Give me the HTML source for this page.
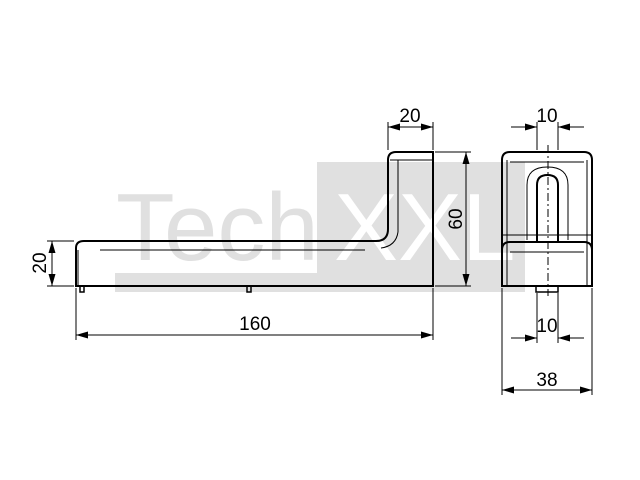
<!DOCTYPE html>
<html><head><meta charset="utf-8"><style>
html,body{margin:0;padding:0;background:#fff}
svg{display:block}
text{font-family:"Liberation Sans",sans-serif;fill:#000}
</style></head><body>
<svg width="640" height="480" viewBox="0 0 640 480" xmlns="http://www.w3.org/2000/svg">
<defs>
<marker id="a" viewBox="0 0 12 7" refX="12" refY="3.5" markerWidth="12" markerHeight="7" orient="auto-start-reverse" markerUnits="userSpaceOnUse">
<path d="M0,0 L12,3.5 L0,7 z" fill="#000"/></marker>
</defs>
<!-- watermark -->
<rect x="317" y="162" width="208" height="130" fill="#e0e0e0"/>
<rect x="115" y="273" width="202" height="19" fill="#e0e0e0"/>
<text x="116" y="260" font-size="96" style="fill:#e0e0e0">Tech</text>
<text x="334" y="260" font-size="96" style="fill:#fff">XXL</text>

<g fill="none" stroke="#000" stroke-width="2">
<!-- side view -->
<path d="M76,286 L76,248 Q76,241 84,241 L376,241 Q388,241 388,229 L388,160 Q388,152 396,152 L433,152 L433,286 Z"/>
<path d="M80,286 v6 h4 v-6 M247,286 v6 h4 v-6" stroke-width="1.5"/>
<!-- front view -->
<path d="M502,286 L502,160 Q502,152 510,152 L584,152 Q592,152 592,160 L592,286 Z"/>
<path d="M502,250 Q502,242 510,242 L584,242 Q592,242 592,250"/>
<path d="M537,241 L537,185 Q537,175 547.5,175 Q558,175 558,185 L558,241"/>
<path d="M536,286 v6 h22 v-6" stroke-width="1.5"/>
</g>
<g fill="none" stroke="#000" stroke-width="1">
<line x1="100" y1="250" x2="365" y2="250"/>
<line x1="398" y1="160" x2="398" y2="232"/>
<path d="M398,232 Q396,246 381,248"/>
<line x1="78" y1="250" x2="78" y2="286"/>
<line x1="390" y1="160" x2="433" y2="160"/>
<!-- front hidden -->
<line x1="507" y1="160" x2="507" y2="286"/>
<line x1="587" y1="160" x2="587" y2="286"/>
<line x1="510" y1="162" x2="584" y2="162"/>
<path d="M527,240 L527,185 Q527,167 547.5,167 Q568,167 568,185 L568,240"/>
<line x1="502" y1="235" x2="592" y2="235"/>
<line x1="510" y1="252" x2="584" y2="252"/>
<line x1="548" y1="145" x2="548" y2="296" stroke-dasharray="8,3,2,3"/>
<!-- dims side -->
<line x1="388" y1="150" x2="388" y2="122"/>
<line x1="433" y1="150" x2="433" y2="122"/>
<line x1="388" y1="127" x2="433" y2="127" marker-start="url(#a)" marker-end="url(#a)"/>
<line x1="435" y1="152" x2="471" y2="152"/>
<line x1="435" y1="286" x2="471" y2="286"/>
<line x1="466" y1="152" x2="466" y2="286" marker-start="url(#a)" marker-end="url(#a)"/>
<line x1="76" y1="288" x2="76" y2="340"/>
<line x1="433" y1="288" x2="433" y2="340"/>
<line x1="76" y1="335" x2="433" y2="335" marker-start="url(#a)" marker-end="url(#a)"/>
<line x1="47" y1="241" x2="74" y2="241"/>
<line x1="47" y1="286" x2="74" y2="286"/>
<line x1="52" y1="241" x2="52" y2="286" marker-start="url(#a)" marker-end="url(#a)"/>
<!-- dims front -->
<line x1="537" y1="122" x2="537" y2="150"/>
<line x1="558" y1="122" x2="558" y2="150"/>
<line x1="511" y1="127" x2="537" y2="127" marker-end="url(#a)"/>
<line x1="584" y1="127" x2="558" y2="127" marker-end="url(#a)"/>
<line x1="537" y1="293" x2="537" y2="343"/>
<line x1="558" y1="293" x2="558" y2="343"/>
<line x1="511" y1="338" x2="537" y2="338" marker-end="url(#a)"/>
<line x1="584" y1="338" x2="558" y2="338" marker-end="url(#a)"/>
<line x1="502" y1="288" x2="502" y2="395"/>
<line x1="592" y1="288" x2="592" y2="395"/>
<line x1="502" y1="390" x2="592" y2="390" marker-start="url(#a)" marker-end="url(#a)"/>
</g>
<g font-size="19">
<text x="410" y="122" text-anchor="middle">20</text>
<text x="255" y="330" text-anchor="middle">160</text>
<text transform="translate(462,219) rotate(-90)" text-anchor="middle">60</text>
<text transform="translate(46,263) rotate(-90)" text-anchor="middle">20</text>
<text x="547" y="122" text-anchor="middle">10</text>
<text x="547" y="332" text-anchor="middle">10</text>
<text x="547" y="386" text-anchor="middle">38</text>
</g>
</svg>
</body></html>
